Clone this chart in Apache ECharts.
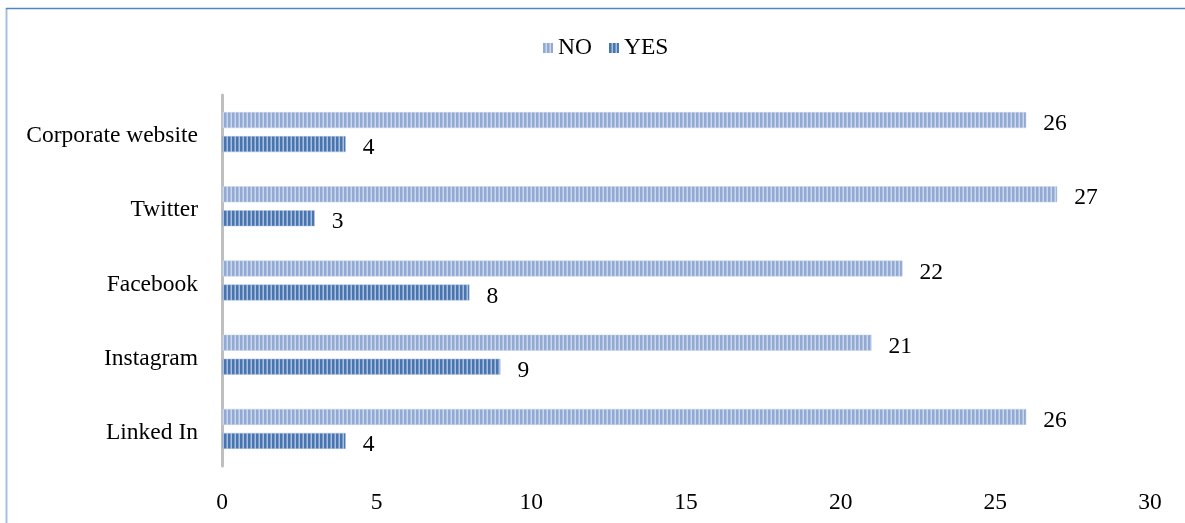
<!DOCTYPE html>
<html><head><meta charset="utf-8">
<script src="https://cdn.jsdelivr.net/npm/echarts@6/dist/echarts.min.js"></script>
<style>html,body{margin:0;padding:0;background:#fff}#c{width:1185px;height:523px}</style>
</head><body><div id="c"></div>
<script>
const categories = ['Corporate website', 'Twitter', 'Facebook', 'Instagram', 'Linked In'];
const noValues = [26, 27, 22, 21, 26];
const yesValues = [4, 3, 8, 9, 4];
const xTicks = [0, 5, 10, 15, 20, 25, 30];

function stripe(dark, light) {
  const c = document.createElement('canvas');
  c.width = 4; c.height = 4;
  const g = c.getContext('2d');
  g.fillStyle = light; g.fillRect(0, 0, 4, 4);
  g.fillStyle = dark; g.fillRect(0, 0, 2.5, 4);
  return { image: c, repeat: 'repeat' };
}
const noFill = stripe('#92aad3', '#cbd7ec');
const yesFill = stripe('#4874b0', '#a9c0df');

const chart = echarts.init(document.getElementById('c'));
const font = 'Liberation Serif, Times New Roman, serif';
const fs = 23.5;
chart.setOption({
  animation: false,
  textStyle: { fontFamily: font },
  graphic: [
    { type: 'line', shape: { x1: 6.5, y1: 8, x2: 6.5, y2: 523 }, style: { stroke: '#a6c1e0', lineWidth: 2 } },
    { type: 'line', shape: { x1: 6, y1: 8.5, x2: 1185, y2: 8.5 }, style: { stroke: '#4f86c8', lineWidth: 1.5 } }
  ],
  legend: {
    top: 31, left: 538, icon: 'rect', itemWidth: 10, itemHeight: 10, itemGap: 17,
    textStyle: { fontFamily: font, fontSize: fs, color: '#000' },
    data: [{ name: 'NO', itemStyle: { color: noFill, borderWidth: 0 } }, { name: 'YES', itemStyle: { color: yesFill, borderWidth: 0 } }]
  },
  grid: { left: 222, right: 35, top: 95, bottom: 57 },
  xAxis: {
    type: 'value', min: 0, max: 30, interval: 5,
    axisLine: { show: false }, axisTick: { show: false }, splitLine: { show: false },
    axisLabel: { fontFamily: font, fontSize: fs, color: '#000', margin: 25,
      formatter: v => xTicks.includes(v) ? String(v) : '' }
  },
  yAxis: {
    type: 'category', data: categories, inverse: true,
    axisLine: { show: true, lineStyle: { color: '#bfbfbf', width: 3 } },
    axisTick: { show: false },
    axisLabel: { margin: 24, formatter: v => '{a|' + v + '}',
      rich: { a: { fontFamily: font, fontSize: fs, color: '#000', padding: [8, 0, 0, 0] } } }
  },
  series: [
    { name: 'NO', type: 'bar', data: noValues, barWidth: 16, barGap: '50%',
      itemStyle: { color: noFill, borderColor: '#c3d1ea', borderWidth: 0.5 },
      label: { show: true, position: 'right', distance: 17, offset: [0, 4], fontFamily: font, fontSize: fs, color: '#000' } },
    { name: 'YES', type: 'bar', data: yesValues, barWidth: 16, barGap: '50%',
      itemStyle: { color: yesFill, borderColor: '#a9c0df', borderWidth: 0.5 },
      label: { show: true, position: 'right', distance: 17, offset: [0, 4], fontFamily: font, fontSize: fs, color: '#000' } }
  ]
});
</script></body></html>
